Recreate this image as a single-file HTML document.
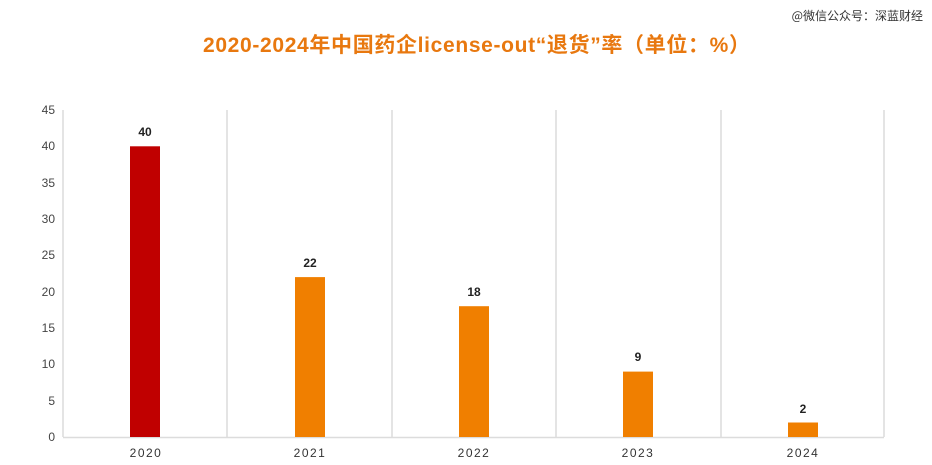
<!DOCTYPE html>
<html><head><meta charset="utf-8"><style>
html,body{margin:0;padding:0;background:#fff;}
svg{display:block;}
</style></head><body>
<svg width="932" height="465" xmlns="http://www.w3.org/2000/svg" font-family="Liberation Sans, 'Noto Sans CJK SC', sans-serif">
<rect width="932" height="465" fill="#fff"/>
<text x="923" y="20" text-anchor="end" font-size="12" fill="#333" font-family="'Noto Sans CJK SC', sans-serif">@微信公众号：深蓝财经</text>
<text x="203" y="52" font-size="21" font-weight="bold" fill="#e8780f" textLength="547" lengthAdjust="spacing" font-family="'Liberation Sans','Noto Sans CJK SC',sans-serif">2020-2024年中国药企license-out“退货”率（单位：%）</text>
<g stroke="#dcdcdc" stroke-width="1.5">
<line x1="63" y1="110" x2="63" y2="437"/>
<line x1="227" y1="110" x2="227" y2="437"/>
<line x1="392" y1="110" x2="392" y2="437"/>
<line x1="556" y1="110" x2="556" y2="437"/>
<line x1="721" y1="110" x2="721" y2="437"/>
<line x1="884" y1="110" x2="884" y2="437"/>
<line x1="63" y1="437.5" x2="884" y2="437.5"/>
</g>
<g font-size="12" fill="#444" text-anchor="end">
<text x="55" y="441">0</text>
<text x="55" y="405">5</text>
<text x="55" y="368">10</text>
<text x="55" y="332">15</text>
<text x="55" y="296">20</text>
<text x="55" y="259">25</text>
<text x="55" y="223">30</text>
<text x="55" y="187">35</text>
<text x="55" y="150">40</text>
<text x="55" y="114">45</text>
</g>
<rect x="130" y="146.3" width="30" height="290.7" fill="#c00000"/>
<rect x="295" y="277.1" width="30" height="159.9" fill="#f07f00"/>
<rect x="459" y="306.2" width="30" height="130.8" fill="#f07f00"/>
<rect x="623" y="371.6" width="30" height="65.4" fill="#f07f00"/>
<rect x="788" y="422.5" width="30" height="14.5" fill="#f07f00"/>
<g font-size="12" font-weight="bold" fill="#222" text-anchor="middle">
<text x="145" y="136">40</text>
<text x="310" y="267">22</text>
<text x="474" y="296">18</text>
<text x="638" y="361">9</text>
<text x="803" y="413">2</text>
</g>
<g font-size="12" fill="#333" text-anchor="middle" letter-spacing="1.5">
<text x="146" y="457">2020</text>
<text x="310" y="457">2021</text>
<text x="474" y="457">2022</text>
<text x="638" y="457">2023</text>
<text x="803" y="457">2024</text>
</g>
</svg>
</body></html>
